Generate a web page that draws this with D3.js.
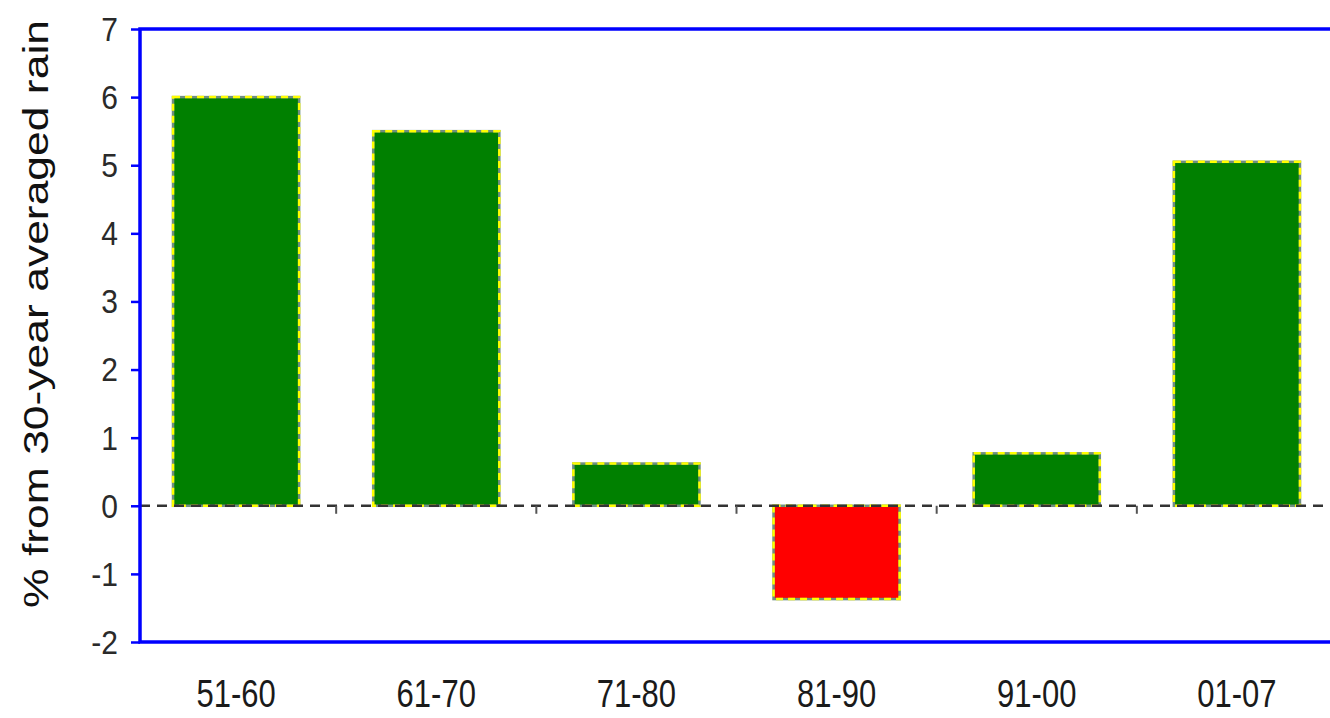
<!DOCTYPE html>
<html>
<head>
<meta charset="utf-8">
<script src="https://cdn.jsdelivr.net/npm/d3@7"></script>
<style>
  html, body { margin: 0; padding: 0; background: #fff; }
  svg { display: block; }
</style>
</head>
<body>
<svg id="chart" width="1330" height="718"></svg>
<script>
const categories = ["51-60", "61-70", "71-80", "81-90", "91-00", "01-07"];
const values = [6.0, 5.5, 0.62, -1.37, 0.77, 5.05];
const yTicks = [-2, -1, 0, 1, 2, 3, 4, 5, 6, 7];
const yTitle = "% from 30-year averaged rain";

(function () {
const svg = d3.select("#chart");
const pLeft = 140, pTop = 29, pBottom = 642, pRight = 1345;
const sy = 1.27; // vertical stretch of the original picture

const y = d3.scaleLinear().domain([-2, 7]).range([pBottom, pTop]);
const x = d3.scaleBand().domain(categories).range([138, 1335])
  .paddingInner(0.37).paddingOuter(0.175);
const step = x.step();

// bars
svg.append("g").selectAll("rect.bar").data(values).join("rect")
  .attr("class", "bar")
  .attr("x", (d, i) => x(categories[i]))
  .attr("width", x.bandwidth())
  .attr("y", d => y(Math.max(0, d)))
  .attr("height", d => Math.abs(y(d) - y(0)))
  .attr("fill", d => d >= 0 ? "#008000" : "#ff0000")
  .attr("stroke", "#6f8f80")
  .attr("stroke-width", 2.5);
svg.append("g").selectAll("rect.edge").data(values).join("rect")
  .attr("class", "edge")
  .attr("x", (d, i) => x(categories[i]))
  .attr("width", x.bandwidth())
  .attr("y", d => y(Math.max(0, d)))
  .attr("height", d => Math.abs(y(d) - y(0)))
  .attr("fill", "none")
  .attr("stroke", "#ffff00")
  .attr("stroke-width", 2.5)
  .attr("stroke-dasharray", "7,5");

// zero line (category axis) dashed
svg.append("line")
  .attr("x1", pLeft).attr("x2", pRight)
  .attr("y1", y(0)).attr("y2", y(0))
  .attr("stroke", "#333").attr("stroke-width", 2.5)
  .attr("stroke-dasharray", "10,7");

// category boundary ticks on zero line
const bounds = categories.slice(0, -1).map(c => x(c) + x.bandwidth() + step * x.paddingInner() / 2);
svg.append("g").selectAll("line").data(bounds).join("line")
  .attr("x1", d => d).attr("x2", d => d)
  .attr("y1", y(0)).attr("y2", y(0) + 8)
  .attr("stroke", "#555").attr("stroke-width", 2);

// frame
svg.append("rect")
  .attr("x", pLeft).attr("y", pTop)
  .attr("width", pRight - pLeft).attr("height", pBottom - pTop)
  .attr("fill", "none").attr("stroke", "#0000ff").attr("stroke-width", 3.5);

// y axis
const yAxis = d3.axisLeft(y).tickValues(yTicks).tickSize(9).tickPadding(13)
  .tickFormat(d => String(d));
const gy = svg.append("g").attr("transform", `translate(${pLeft},0)`).call(yAxis);
gy.attr("font-size", 30).attr("font-family", "Arial, 'Liberation Sans', sans-serif");
gy.select(".domain").remove();
gy.selectAll(".tick line").attr("stroke", "#0000ff").attr("stroke-width", 2.5);
gy.selectAll(".tick text")
  .style("font-size", "30px")
  .attr("fill", "#2a2a2a")
  .attr("dy", "0.35em")
  .attr("transform", "scale(1,1.08)");

// x labels (low position)
svg.append("g").selectAll("text").data(categories).join("text")
  .attr("transform", d => `translate(${x(d) + x.bandwidth() / 2},${707}) scale(1,${sy})`)
  .attr("text-anchor", "middle")
  .attr("font-family", "Arial, 'Liberation Sans', sans-serif")
  .attr("font-size", 31)
  .attr("fill", "#1a1a1a")
  .text(d => d);

// y title
svg.append("text")
  .attr("transform", `translate(48,314) rotate(-90) scale(${sy},1)`)
  .attr("text-anchor", "middle")
  .attr("font-family", "Arial, 'Liberation Sans', sans-serif")
  .attr("font-size", 35)
  .attr("fill", "#111")
  .text(yTitle);
})();
</script>
</body>
</html>
